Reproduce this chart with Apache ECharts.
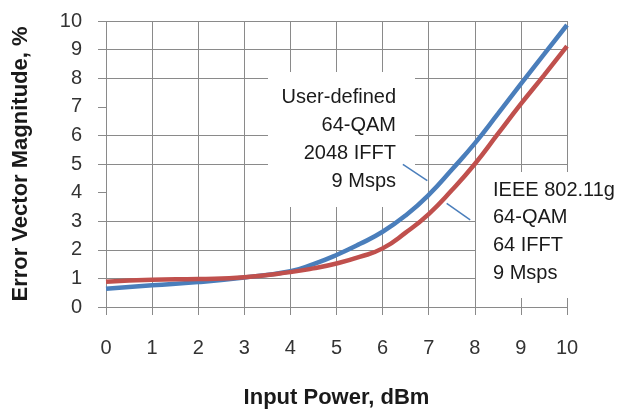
<!DOCTYPE html>
<html>
<head>
<meta charset="utf-8">
<title>EVM vs Input Power</title>
<script src="https://cdn.jsdelivr.net/npm/echarts@6/dist/echarts.min.js"></script>
<style>
  html, body { margin: 0; padding: 0; background: #fff; }
  #main { width: 629px; height: 414px; }
</style>
</head>
<body>
<div id="main"></div>
<script>
// input power, dBm
var power = [0, 1, 2, 3, 4, 4.5, 5, 5.5, 6, 6.5, 7, 7.5, 8, 8.5, 9, 9.5, 10]
// user-defined 64-QAM, 2048 IFFT (blue)
var evmUser = [0.64, 0.76, 0.87, 1.03, 1.25, 1.5, 1.82, 2.2, 2.63, 3.2, 3.92, 4.8, 5.72, 6.75, 7.8, 8.83, 9.86]
// IEEE 802.11g 64-QAM, 64 IFFT (red)
var evmIeee = [0.88, 0.95, 0.98, 1.04, 1.22, 1.35, 1.52, 1.75, 2.05, 2.6, 3.25, 4.08, 5.0, 6.05, 7.1, 8.1, 9.12]

var labelUser = ['User-defined', '64-QAM', '2048 IFFT', '9 Msps']
var labelIeee = ['IEEE 802.11g', '64-QAM', '64 IFFT', '9 Msps']

// leader line pieces (data coords)
var leader = [
  [[6.44, 4.99], [6.97, 4.42]],
  [[7.39, 3.62], [7.90, 3.05]]
]

// gridlines that the text boxes hide in the original
var hiddenLines = [4, 7]

var gridColor = '#8a8a8a'
var font = 'Liberation Sans'

function pairs (xs, ys) {
  return xs.map(function (x, i) { return [x, ys[i]] })
}

var hLineColors = []
for (var i = 0; i <= 10; i++) {
  hLineColors.push(hiddenLines.indexOf(i) >= 0 ? 'rgba(0,0,0,0)' : gridColor)
}

var chart = echarts.init(document.getElementById('main'))

var textLines = []
labelUser.forEach(function (t, i) {
  textLines.push({
    type: 'text', z: 10, x: 396, y: 97 + i * 28.3,
    style: { text: t, font: '20px "' + font + '"', fill: '#1a1a1a', align: 'right', verticalAlign: 'middle' }
  })
})
labelIeee.forEach(function (t, i) {
  textLines.push({
    type: 'text', z: 10, x: 493, y: 190 + i * 27.7,
    style: { text: t, font: '20px "' + font + '"', fill: '#1a1a1a', align: 'left', verticalAlign: 'middle' }
  })
})

var option = {
  animation: false,
  backgroundColor: '#fff',
  grid: { left: 106, right: 62, top: 21, bottom: 102 },
  xAxis: {
    type: 'value', min: 0, max: 10, interval: 1,
    name: 'Input Power, dBm', nameLocation: 'middle', nameGap: 80,
    nameTextStyle: { fontFamily: font, fontSize: 22, fontWeight: 'bold', color: '#1a1a1a' },
    axisLine: { show: true, lineStyle: { color: gridColor, width: 1 } },
    axisTick: { show: true, length: 8, lineStyle: { color: gridColor } },
    axisLabel: { margin: 31, fontFamily: font, fontSize: 20, color: '#333' },
    splitLine: { show: true, lineStyle: { color: gridColor, width: 1 } }
  },
  yAxis: {
    type: 'value', min: 0, max: 10, interval: 1,
    name: 'Error Vector Magnitude, %', nameLocation: 'middle', nameGap: 74,
    nameTextStyle: { fontFamily: font, fontSize: 22, fontWeight: 'bold', color: '#1a1a1a' },
    axisLine: { show: false },
    axisTick: { show: true, length: 8, lineStyle: { color: gridColor } },
    axisLabel: { margin: 24, fontFamily: font, fontSize: 20, color: '#333' },
    splitLine: { show: true, lineStyle: { color: hLineColors, width: 1 } }
  },
  series: [
    {
      name: 'User-defined', type: 'line', smooth: true, symbol: 'none',
      data: pairs(power, evmUser),
      lineStyle: { color: '#4a7ebb', width: 4.5 },
      markLine: {
        silent: true, symbol: 'none', label: { show: false },
        lineStyle: { color: '#4a7ebb', width: 1.5, type: 'solid' },
        data: leader.map(function (seg) {
          return [{ coord: seg[0] }, { coord: seg[1] }]
        })
      }
    },
    {
      name: 'IEEE 802.11g', type: 'line', smooth: true, symbol: 'none',
      data: pairs(power, evmIeee),
      lineStyle: { color: '#c0504d', width: 4.5 }
    }
  ],
  graphic: [
    // white label boxes covering the grid
    { type: 'rect', z: 1, shape: { x: 268, y: 72, width: 147, height: 135 }, style: { fill: '#fff' } },
    { type: 'rect', z: 1, shape: { x: 476, y: 172, width: 145, height: 126 }, style: { fill: '#fff' } }
  ].concat(textLines)
}

chart.setOption(option)
</script>
</body>
</html>
